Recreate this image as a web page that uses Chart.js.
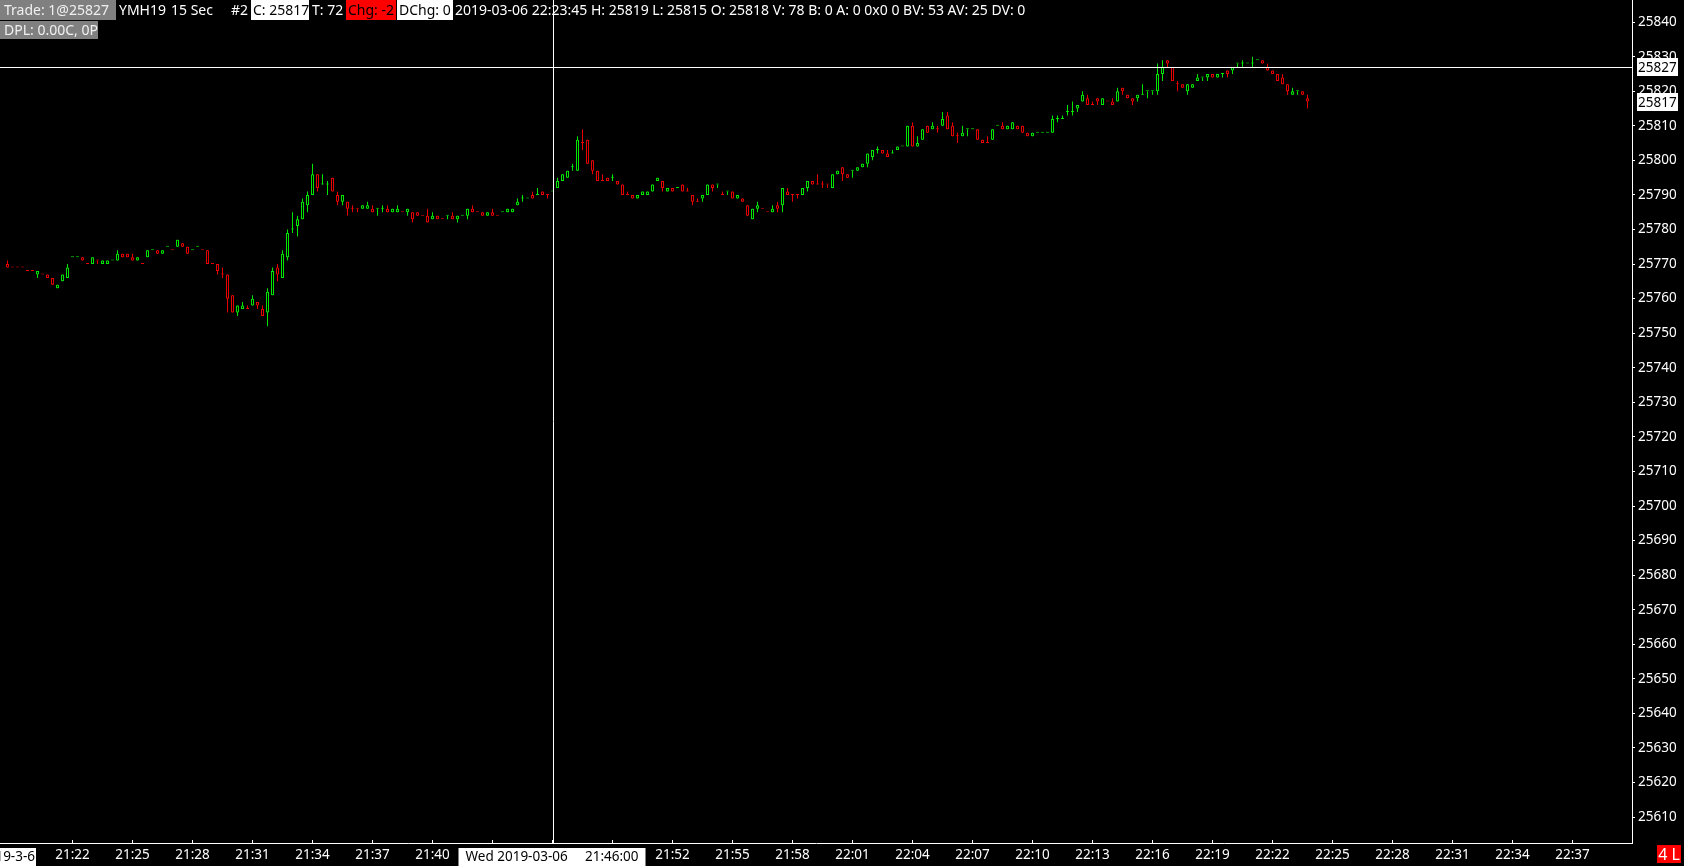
<!DOCTYPE html>
<html>
<head>
<meta charset="utf-8">
<title>YMH19 15 Sec</title>
<script src="https://cdn.jsdelivr.net/npm/chart.js@4.4.1/dist/chart.umd.min.js"></script>
<style>
  html, body { margin: 0; padding: 0; background: #000; }
  #wrap { position: relative; width: 1684px; height: 866px; }
</style>
</head>
<body>
<div id="wrap"><canvas id="myChart"></canvas></div>
<script>
// 15 second bars, first one at 21:18:45
const firstBar = '21:18:45';
const barSeconds = 15;

const open = [
  25770,25769,25769,25769,25768,25768,25767,25767,25767,25766,
  25763,25765,25766,25772,25772,25772,25770,25770,25771,25770,
  25770,25771,25771,25773,25773,25772,25771,25770,25772,25774,
  25774,25773,25775,25774,25775,25776,25775,25774,25775,25774,
  25774,25770,25770,25767,25767,25761,25756,25757,25757,25758,
  25759,25757,25756,25761,25769,25766,25772,25780,25781,25783,
  25787,25790,25796,25793,25793,25795,25790,25788,25788,25786,
  25786,25786,25786,25786,25786,25786,25786,25785,25785,25785,
  25785,25785,25785,25784,25784,25783,25784,25783,25784,25784,
  25783,25784,25784,25786,25785,25785,25784,25785,25784,25785,
  25785,25785,25787,25789,25789,25790,25790,25791,25790,25791,
  25792,25794,25795,25798,25797,25805,25806,25800,25797,25794,
  25795,25795,25794,25793,25790,25790,25789,25790,25790,25791,
  25794,25794,25791,25792,25792,25793,25791,25790,25788,25789,
  25790,25793,25793,25790,25791,25791,25789,25789,25787,25783,
  25786,25786,25785,25785,25787,25787,25791,25790,25790,25790,
  25792,25794,25793,25793,25793,25792,25796,25798,25796,25797,
  25797,25798,25799,25801,25803,25803,25802,25802,25803,25804,
  25804,25810,25804,25806,25810,25809,25809,25810,25813,25810,
  25807,25807,25809,25809,25809,25806,25805,25806,25810,25810,
  25809,25809,25810,25810,25808,25807,25808,25808,25808,25808,
  25812,25812,25814,25814,25815,25817,25818,25816,25818,25816,
  25817,25817,25817,25821,25819,25818,25818,25819,25820,25820,
  25820,25825,25829,25827,25822,25822,25820,25821,25823,25824,
  25824,25825,25824,25825,25826,25826,25828,25828,25828,25828,
  25829,25829,25827,25826,25825,25824,25822,25819,25820,25820,25818
];
const high = [
  25771,25769,25769,25769,25768,25768,25768,25767,25767,25766,
  25764,25767,25770,25772,25772,25772,25770,25772,25771,25771,
  25771,25771,25774,25773,25773,25773,25772,25770,25774,25774,
  25774,25774,25775,25774,25777,25776,25775,25774,25775,25774,
  25774,25770,25770,25769,25767,25761,25758,25759,25758,25761,
  25759,25758,25763,25769,25770,25774,25780,25785,25784,25789,
  25791,25799,25796,25796,25794,25795,25791,25790,25788,25787,
  25786,25787,25788,25787,25786,25787,25787,25786,25787,25785,
  25786,25785,25785,25784,25786,25785,25784,25783,25784,25785,
  25784,25784,25786,25787,25785,25785,25785,25786,25784,25785,
  25786,25786,25789,25790,25789,25791,25792,25791,25790,25791,
  25795,25796,25797,25799,25807,25809,25806,25800,25797,25796,
  25795,25796,25794,25793,25791,25790,25790,25791,25791,25793,
  25795,25794,25792,25792,25792,25793,25792,25790,25789,25790,
  25793,25793,25793,25791,25791,25791,25790,25789,25787,25786,
  25788,25786,25785,25787,25788,25792,25792,25790,25790,25792,
  25794,25794,25796,25794,25793,25796,25797,25798,25796,25797,
  25798,25799,25802,25803,25804,25803,25803,25803,25804,25804,
  25810,25811,25807,25809,25810,25811,25810,25814,25814,25811,
  25808,25810,25809,25809,25809,25806,25807,25809,25810,25811,
  25810,25811,25810,25810,25808,25808,25808,25808,25808,25813,
  25813,25813,25816,25817,25816,25820,25819,25817,25818,25818,
  25817,25818,25821,25821,25819,25818,25819,25822,25820,25820,
  25828,25829,25829,25827,25823,25822,25822,25822,25825,25824,
  25825,25825,25825,25825,25826,25827,25828,25829,25828,25830,
  25829,25829,25828,25826,25825,25825,25822,25821,25820,25820,25819
];
const low = [
  25769,25769,25769,25769,25768,25768,25766,25767,25766,25764,
  25763,25765,25766,25772,25772,25771,25770,25770,25770,25770,
  25770,25771,25771,25772,25772,25771,25771,25770,25772,25774,
  25773,25773,25775,25774,25775,25775,25773,25774,25775,25774,
  25770,25770,25767,25766,25756,25756,25755,25757,25757,25758,
  25757,25755,25752,25761,25765,25766,25771,25779,25778,25783,
  25785,25790,25791,25793,25790,25791,25787,25787,25784,25785,
  25785,25786,25786,25785,25784,25785,25785,25785,25785,25785,
  25784,25782,25784,25784,25782,25783,25783,25783,25783,25783,
  25782,25784,25783,25785,25785,25784,25784,25784,25784,25785,
  25785,25785,25787,25788,25789,25789,25790,25790,25789,25791,
  25792,25794,25795,25797,25797,25803,25799,25796,25794,25794,
  25794,25794,25793,25790,25790,25789,25789,25790,25790,25791,
  25794,25791,25791,25791,25792,25791,25791,25787,25788,25788,
  25790,25791,25792,25790,25790,25789,25789,25788,25784,25783,
  25785,25786,25785,25785,25785,25785,25790,25788,25789,25790,
  25791,25793,25793,25792,25792,25792,25796,25794,25795,25795,
  25797,25798,25798,25800,25802,25802,25801,25802,25803,25804,
  25804,25804,25804,25806,25808,25809,25808,25810,25809,25807,
  25805,25807,25807,25809,25806,25805,25805,25806,25810,25809,
  25809,25809,25809,25808,25807,25807,25808,25808,25808,25808,
  25811,25812,25813,25813,25814,25817,25816,25816,25816,25816,
  25817,25816,25817,25819,25818,25816,25817,25819,25818,25819,
  25819,25823,25827,25823,25820,25821,25819,25821,25823,25823,
  25823,25824,25824,25824,25824,25825,25827,25827,25828,25827,
  25829,25828,25826,25825,25823,25822,25819,25819,25819,25819,25815
];
const close = [
  25769,25769,25769,25769,25768,25768,25768,25767,25766,25764,
  25764,25767,25769,25772,25772,25771,25770,25772,25771,25771,
  25771,25771,25773,25772,25772,25771,25772,25770,25774,25774,
  25773,25774,25775,25774,25777,25775,25773,25774,25775,25774,
  25770,25770,25768,25767,25760,25756,25758,25758,25757,25760,
  25758,25755,25762,25768,25767,25773,25779,25780,25783,25788,
  25790,25796,25792,25793,25793,25791,25788,25790,25786,25786,
  25786,25787,25787,25785,25786,25786,25785,25786,25786,25785,
  25786,25783,25784,25784,25782,25784,25783,25783,25784,25783,
  25784,25784,25786,25785,25785,25784,25785,25784,25784,25785,
  25786,25786,25788,25789,25789,25789,25790,25790,25790,25791,
  25794,25796,25797,25798,25806,25805,25799,25797,25794,25794,
  25794,25795,25793,25790,25790,25789,25790,25791,25791,25793,
  25795,25792,25792,25791,25792,25791,25791,25788,25788,25790,
  25793,25792,25793,25790,25791,25789,25790,25788,25784,25786,
  25787,25786,25785,25786,25786,25792,25790,25790,25790,25792,
  25794,25793,25793,25793,25793,25796,25797,25796,25795,25797,
  25798,25799,25802,25803,25803,25802,25801,25802,25804,25804,
  25810,25804,25805,25809,25808,25810,25809,25812,25809,25807,
  25807,25808,25809,25809,25806,25805,25805,25809,25810,25809,
  25810,25811,25809,25808,25807,25808,25808,25808,25808,25812,
  25812,25812,25814,25814,25816,25819,25816,25816,25817,25818,
  25817,25816,25820,25820,25818,25817,25819,25819,25820,25820,
  25825,25827,25828,25823,25822,25821,25822,25822,25824,25824,
  25825,25824,25825,25825,25825,25827,25828,25828,25828,25828,
  25829,25828,25826,25825,25823,25822,25820,25820,25820,25819,25817
];

const timeLabels = ['21:22','21:25','21:28','21:31','21:34','21:37','21:40','21:43','21:46','21:49',
  '21:52','21:55','21:58','22:01','22:04','22:07','22:10','22:13','22:16','22:19',
  '22:22','22:25','22:28','22:31','22:34','22:37'];
const priceTicks = [25610,25620,25630,25640,25650,25660,25670,25680,25690,25700,25710,25720,
  25730,25740,25750,25760,25770,25780,25790,25800,25810,25820,25830,25840];

const crossTime = '21:46';
const crossPrice = 25827;
const crossDate = 'Wed 2019-03-06';
const crossClock = '21:46:00';
const leftDate = '2019-3-6';

const header1 = [
  { text: 'Trade: 1@25827', x: 4, box: [0, 116], bg: '#808080', color: '#f0f0f0' },
  { text: 'YMH19', x: 119 },
  { text: '15 Sec', x: 171 },
  { text: '#2', x: 231 },
  { text: 'C: 25817', x: 253, box: [251, 309], bg: '#ffffff', color: '#000' },
  { text: 'T: 72', x: 312 },
  { text: 'Chg: -2', x: 348, box: [346, 396], bg: '#ff0000', color: '#000' },
  { text: 'DChg: 0', x: 399, box: [397, 453], bg: '#ffffff', color: '#000' },
  { text: '2019-03-06 22:23:45 H: 25819 L: 25815 O: 25818 V: 78 B: 0 A: 0 0x0 0 BV: 53 AV: 25 DV: 0', x: 455 }
];
const header2 = [
  { text: 'DPL: 0.00C, 0P', x: 4, box: [0, 98], bg: '#808080', color: '#f0f0f0' }
];

const green = '#00e600';
const red = '#e60000';
const fontFamily = '"Noto Sans", "DejaVu Sans", sans-serif';

function toMin(s) {
  const p = s.split(':').map(Number);
  return (p[0] - 21) * 60 + p[1] + (p[2] || 0) / 60;
}

const start = toMin(firstBar);
const barTime = i => start + i * barSeconds / 60;

// up/down colour: close vs open, ties go by previous close, then previous colour
const colors = [];
for (let i = 0; i < close.length; i++) {
  let up;
  if (close[i] > open[i]) up = true;
  else if (close[i] < open[i]) up = false;
  else if (i > 0 && close[i] !== close[i - 1]) up = close[i] > close[i - 1];
  else up = i > 0 ? colors[i - 1] === green : false;
  colors.push(up ? green : red);
}

const bodies = open.map((o, i) => ({ x: barTime(i), y: [Math.min(o, close[i]), Math.max(o, close[i])] }));
const wicks = open.map((o, i) => ({ x: barTime(i), y: [low[i], high[i]] }));
const tickMinutes = timeLabels.map(toMin);

function box(ctx, x1, y1, x2, y2, bg) {
  ctx.fillStyle = bg;
  ctx.fillRect(x1, y1, x2 - x1, y2 - y1);
}

const overlay = {
  id: 'overlay',
  afterDraw(chart) {
    const { ctx, chartArea: area, scales: { x, y } } = chart;
    ctx.save();
    ctx.textBaseline = 'middle';

    // header lines
    ctx.font = '14px ' + fontFamily;
    const rows = [[header1, 0, 20], [header2, 21, 39]];
    rows.forEach(([items, top, bottom]) => {
      items.forEach(it => {
        if (it.box) box(ctx, it.box[0], top, it.box[1], bottom, it.bg);
        ctx.fillStyle = it.color || '#fff';
        ctx.textAlign = 'left';
        ctx.fillText(it.text, it.x, (top + bottom) / 2 + 1);
      });
    });

    // crosshair
    const cx = Math.round(x.getPixelForValue(toMin(crossTime))) + 0.5;
    const cy = Math.round(y.getPixelForValue(crossPrice)) + 0.5;
    ctx.strokeStyle = '#fff';
    ctx.lineWidth = 1;
    ctx.beginPath();
    ctx.moveTo(cx, 0); ctx.lineTo(cx, area.bottom);
    ctx.moveTo(0, cy); ctx.lineTo(area.right, cy);
    ctx.stroke();

    // price flags on the right axis
    ctx.font = '13.5px ' + fontFamily;
    [crossPrice, close[close.length - 1]].forEach(v => {
      const py = Math.round(y.getPixelForValue(v));
      box(ctx, area.right + 5, py - 9, area.right + 46, py + 9, '#fff');
      ctx.fillStyle = '#000';
      ctx.textAlign = 'left';
      ctx.fillText(String(v), area.right + 6, py + 1);
    });

    // time flags on the bottom axis
    const ty = area.bottom + 14;
    box(ctx, cx - 95, area.bottom + 5, cx + 92, 866, '#fff');
    ctx.fillStyle = '#000';
    ctx.textAlign = 'left';
    ctx.fillText(crossDate, cx - 88, ty);
    ctx.textAlign = 'right';
    ctx.fillText(crossClock, cx + 85, ty);

    box(ctx, 0, area.bottom + 5, 36, 866, '#fff');
    ctx.fillStyle = '#000';
    ctx.fillText(leftDate, 35, ty);

    ctx.font = '16px ' + fontFamily;
    box(ctx, 1657, area.bottom + 2, 1681, area.bottom + 20, '#ff0000');
    ctx.fillStyle = '#fff';
    ctx.textAlign = 'center';
    ctx.fillText('4 L', 1669, area.bottom + 12);

    ctx.restore();
  }
};

Chart.defaults.font.family = fontFamily;

new Chart(document.getElementById('myChart'), {
  type: 'bar',
  data: {
    datasets: [
      {
        label: 'body',
        data: bodies,
        backgroundColor: '#000',
        borderColor: colors,
        borderWidth: 1,
        borderSkipped: false,
        inflateAmount: 0,
        minBarLength: 1,
        maxBarThickness: 3,
        barPercentage: 1,
        categoryPercentage: 1,
        grouped: false,
        order: 0
      },
      {
        label: 'wick',
        data: wicks,
        backgroundColor: colors,
        borderWidth: 0,
        inflateAmount: 0,
        maxBarThickness: 1,
        barPercentage: 1,
        categoryPercentage: 1,
        grouped: false,
        order: 1
      }
    ]
  },
  options: {
    responsive: true,
    maintainAspectRatio: false,
    animation: false,
    layout: { padding: 0 },
    plugins: { legend: { display: false }, tooltip: { enabled: false } },
    scales: {
      x: {
        type: 'linear',
        min: 18.375,
        max: 99.975,
        offset: false,
        grid: { offset: false, drawOnChartArea: false, drawTicks: true, tickLength: -3, color: '#fff' },
        border: { display: true, color: '#fff', width: 1 },
        ticks: {
          color: '#fff',
          font: { size: 13.5 },
          padding: 7,
          maxRotation: 0,
          autoSkip: false,
          callback: (v, i) => timeLabels[i]
        },
        afterBuildTicks: axis => { axis.ticks = tickMinutes.map(v => ({ value: v })); },
        afterFit: axis => { axis.height = 23; axis.paddingLeft = 0; axis.paddingRight = 0; }
      },
      y: {
        type: 'linear',
        position: 'right',
        min: 25602.5,
        max: 25846.4,
        grid: { drawOnChartArea: false, drawTicks: true, tickLength: 3, color: '#fff' },
        border: { display: true, color: '#fff', width: 1 },
        ticks: {
          color: '#fff',
          font: { size: 13.5 },
          padding: 3,
          autoSkip: false,
          callback: v => String(v)
        },
        afterBuildTicks: axis => { axis.ticks = priceTicks.map(v => ({ value: v })); },
        afterFit: axis => { axis.width = 52; axis.paddingTop = 0; axis.paddingBottom = 0; }
      }
    }
  },
  plugins: [overlay]
});
</script>
</body>
</html>
